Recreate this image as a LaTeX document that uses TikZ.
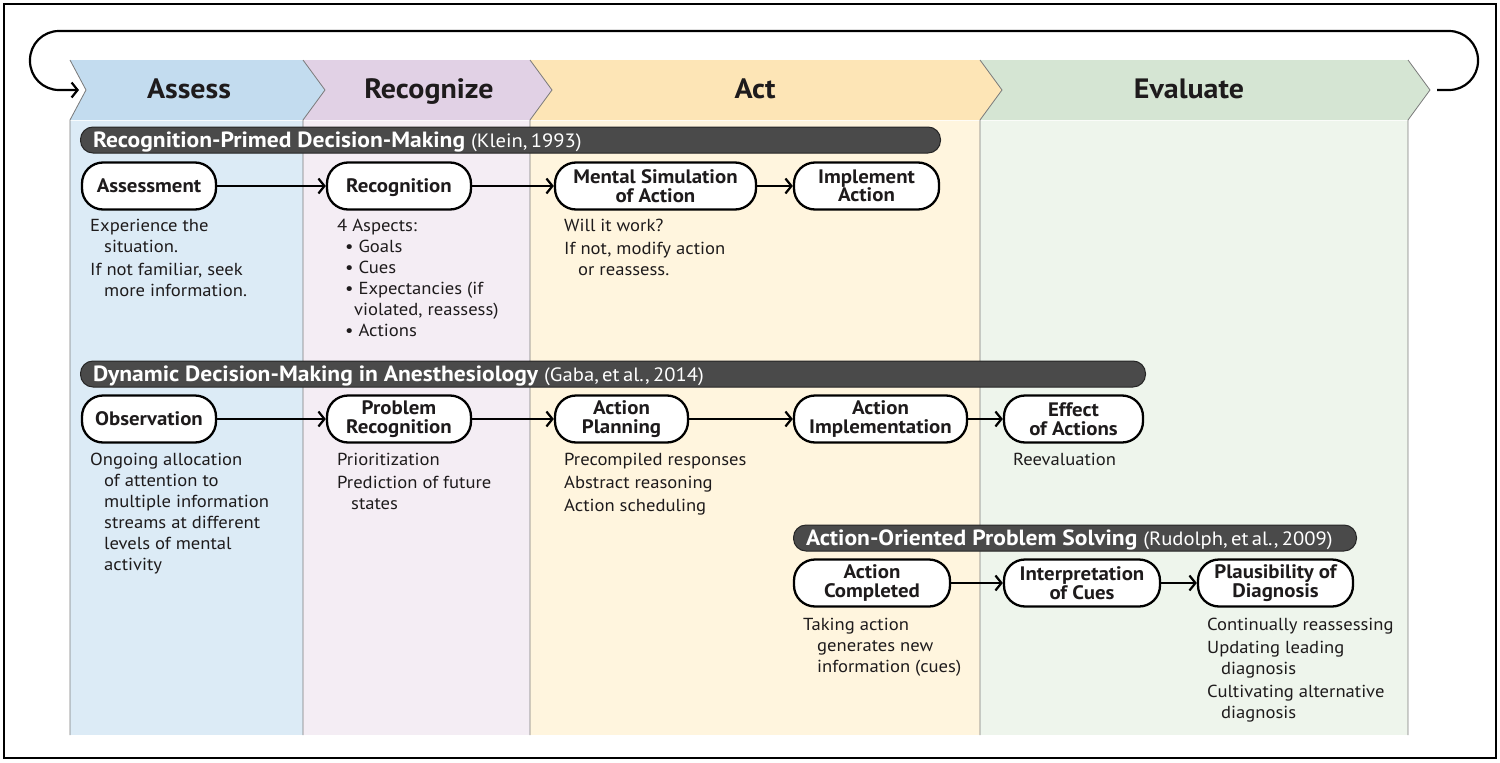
\documentclass[tikz,border=0pt]{standalone}
\usepackage{fontspec}
\setmainfont{PT Sans}[FakeStretch=1.07]
\usetikzlibrary{arrows.meta}
\definecolor{hA}{HTML}{C3DCEF}
\definecolor{bA}{HTML}{DCEBF6}
\definecolor{hR}{HTML}{E1D1E5}
\definecolor{bR}{HTML}{F4EDF4}
\definecolor{hC}{HTML}{FDE5B6}
\definecolor{bC}{HTML}{FFF5DE}
\definecolor{hE}{HTML}{D5E5D3}
\definecolor{bE}{HTML}{EEF5EC}
\definecolor{barc}{HTML}{4A4A4A}
\definecolor{edge}{HTML}{7A7A7A}
\definecolor{ink}{HTML}{1E1B1C}
\tikzset{
  proc/.style={draw=black, line width=2.3pt, fill=white, rounded corners=21pt,
    minimum height=47pt, inner sep=0pt, align=center, text=ink,
    font=\fontsize{19.5}{18.5}\selectfont\bfseries},
  barbox/.style={draw=black!85, line width=1pt, fill=barc, rounded corners=12.5pt,
    minimum height=26pt, inner xsep=12.5pt, inner ysep=0pt, anchor=west, align=left, text=white},
  note/.style={anchor=north west, inner sep=0pt, align=left, text=ink,
    font=\fontsize{17.4}{21}\selectfont},
  head/.style={anchor=base, text=ink, font=\fontsize{28}{28}\selectfont\bfseries},
  flow/.style={line width=2.2pt, -{Straight Barb[length=6pt,width=15pt,line width=2.2pt]}},
  colline/.style={draw=edge, line width=0.8pt},
}
\newcommand{\bartitle}[2]{\raisebox{0pt}[\height][0pt]{{\fontsize{22}{22}\selectfont\bfseries\spaceskip=0.27em\relax #1}\hspace{6pt}{\fontsize{19.3}{19}\selectfont #2}}}
\newcommand{\fl}{\rule{0pt}{14pt}}
\newcommand{\nodesc}[1]{\raisebox{0pt}[\height][0pt]{#1}}
\begin{document}
\begin{tikzpicture}[x=1pt,y=-1pt]
\useasboundingbox (0,0) rectangle (1500,763);
% column bodies
\fill[bA] (70,121) rectangle (303,735);
\fill[bR] (303,121) rectangle (530,735);
\fill[bC] (530,121) rectangle (980,735);
\fill[bE] (980,121) rectangle (1408,735);
% headers
\fill[hA] (70,60) -- (303,60) -- (325,90) -- (303,120) -- (70,120) -- (86,90) -- cycle;
\fill[hR] (303,60) -- (530,60) -- (552,90) -- (530,120) -- (303,120) -- (325,90) -- cycle;
\fill[hC] (530,60) -- (980,60) -- (1002,90) -- (980,120) -- (530,120) -- (552,90) -- cycle;
\fill[hE] (980,60) -- (1408,60) -- (1430,90) -- (1408,120) -- (980,120) -- (1002,90) -- cycle;
% edges
\draw[colline] (70,60) -- (86,90) -- (70,120) -- (70,735);
\draw[colline] (303,60) -- (325,90) -- (303,120) -- (303,735);
\draw[colline] (530,60) -- (552,90) -- (530,120) -- (530,735);
\draw[colline] (980,60) -- (1002,90) -- (980,120) -- (980,735);
\draw[colline] (1408,60) -- (1430,90) -- (1408,120) -- (1408,735);
% header titles
\node[head] (tA) at (189,98) {Assess};
\node[head] (tR) at (429,98) {Recognize};
\node[head] (tC) at (755,98) {Act};
\node[head] (tE) at (1189,98) {Evaluate};
% loop arrow
\coordinate (loopS) at (1437,90);
\coordinate (loopE) at (79,90);
\draw[line width=2.2pt, rounded corners=29pt, -{Straight Barb[length=6pt,width=15pt,line width=2.2pt]}]
  (loopS) -- (1478,90) -- (1478,31) -- (30,31) -- (30,90) -- (loopE);
% frame
\draw[line width=2pt] (4,4) rectangle (1496,758);

% bars
\node[barbox, text width=835pt] (bar1) at (80,140) {\bartitle{Recognition-Primed Decision-Making}{(Klein, 1993)}};
\node[barbox, text width=1040pt] (bar2) at (80,374) {\bartitle{Dynamic Decision-Making in Anesthesiology}{(Gaba, et al., 2014)}};
\node[barbox, text width=538pt] (bar3) at (793,538) {\bartitle{Action-Oriented Problem Solving}{(Rudolph, et al., 2009)}};

% row 1
\node[proc, minimum width=134pt] (assess) at (149,186) {Assessment};
\node[proc, minimum width=144pt] (recog) at (399,186) {\nodesc{Recognition}};
\node[proc, minimum width=201pt] (msim) at (655.5,186) {Mental Simulation\\of Action};
\node[proc, minimum width=145pt] (impl) at (866.5,186) {Implement\\Action};
\draw[flow] (assess) -- (recog);
\draw[flow] (recog) -- (msim);
\draw[flow] (msim) -- (impl);

% row 2
\node[proc, minimum width=134pt] (obs) at (149,419) {Observation};
\node[proc, minimum width=144pt] (prec) at (399,419) {Problem\\Recognition};
\node[proc, minimum width=133pt] (aplan) at (621.5,419) {Action\\Planning};
\node[proc, minimum width=173pt] (aimpl) at (880.5,419) {Action\\Implementation};
\node[proc, minimum width=139pt] (effect) at (1073.5,419) {Effect\\of Actions};
\draw[flow] (obs) -- (prec);
\draw[flow] (prec) -- (aplan);
\draw[flow] (aplan) -- (aimpl);
\draw[flow] (aimpl) -- (effect);

% row 3
\node[proc, minimum width=156pt] (acomp) at (872,583) {Action\\Completed};
\node[proc, minimum width=156pt] (interp) at (1082,583) {Interpretation\\of Cues};
\node[proc, minimum width=155pt] (plaus) at (1275.5,583) {Plausibility of\\Diagnosis};
\draw[flow] (acomp) -- (interp);
\draw[flow] (interp) -- (plaus);

% notes (first baseline = y + 14)
\node[note] (nAssess) at (90,217) {\fl Experience the\\\hspace*{14pt}situation.\\[2pt]If not familiar, seek\\\hspace*{14pt}more information.};
\node[note] (nRecog) at (337,217) {\fl 4 Aspects:\\\hspace*{8pt}\textbullet\ Goals\\\hspace*{8pt}\textbullet\ Cues\\\hspace*{8pt}\textbullet\ Expectancies (if\\\hspace*{17pt}violated, reassess)\\\hspace*{8pt}\textbullet\ Actions};
\node[note] (nMsim) at (564,217) {\fl Will it work?\\[2pt]If not, modify action\\\hspace*{14pt}or reassess.};
\node[note] (nObs) at (90,451) {\fl Ongoing allocation\\\hspace*{14pt}of attention to\\\hspace*{14pt}multiple information\\\hspace*{14pt}streams at different\\\hspace*{14pt}levels of mental\\\hspace*{14pt}activity};
\node[note] (nPrec) at (337,451) {\fl Prioritization\\[2pt]Prediction of future\\\hspace*{14pt}states};
\node[note] (nAplan) at (564,451) {\fl Precompiled responses\\[2pt]Abstract reasoning\\[2pt]Action scheduling};
\node[note] (nEffect) at (1013,451) {\fl Reevaluation};
\node[note] (nAcomp) at (803,616) {\fl Taking action\\\hspace*{14pt}generates new\\\hspace*{14pt}information (cues)};
\node[note] (nPlaus) at (1207,616) {\fl Continually reassessing\\[2pt]Updating leading\\\hspace*{14pt}diagnosis\\[2pt]Cultivating alternative\\\hspace*{14pt}diagnosis};
\end{tikzpicture}
\end{document}
